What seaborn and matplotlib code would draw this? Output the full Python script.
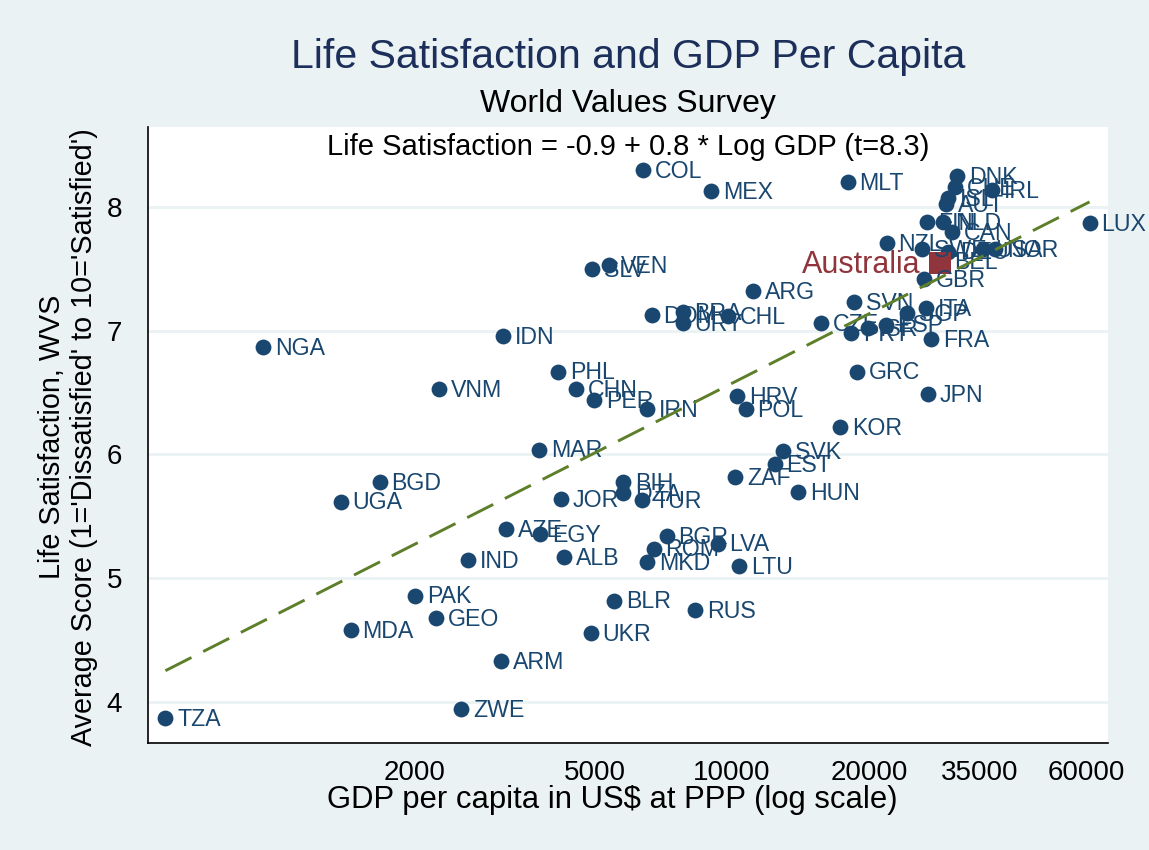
import matplotlib
matplotlib.use("Agg")
import matplotlib.pyplot as plt
import seaborn as sns
import pandas as pd
from matplotlib.ticker import FixedLocator, NullLocator


countries = [
    "TZA", "ZWE", "MDA", "ARM", "UKR", "GEO", "PAK", "BLR", "RUS", "LTU",
    "MKD", "ROM", "BGR", "LVA", "IND", "ALB", "AZE", "EGY", "UGA", "BGD",
    "JOR", "BIH", "DZA", "TUR", "MAR", "ZAF", "EST", "SVK", "HUN", "KOR",
    "HRV", "POL", "IRN", "PER", "CHN", "PHL", "VNM", "NGA", "IDN", "GRC",
    "JPN", "FRA", "ITA", "CZE", "PRT", "ISR", "ESP", "SGP", "SVN", "GBR",
    "COL", "MEX", "SLV", "VEN", "DOM", "BRA", "URY", "CHL", "ARG", "MLT",
    "DNK", "CHE", "IRL", "ISL", "AUT", "FIN", "NLD", "CAN", "NZL", "SWE",
    "DEU", "USA", "NOR", "BEL", "LUX",
]
gdp = [
    568, 2540, 1450, 3110, 4890, 2230, 2010, 5510, 8300, 10350,
    6500, 6720, 7180, 9300, 2630, 4270, 3190, 3790, 1380, 1680,
    4200, 5760, 5760, 6350, 3760, 10150, 12400, 12960, 13950, 17280,
    10270, 10720, 6500, 4980, 4530, 4150, 2270, 930, 3140, 18820,
    26970, 27360, 26680, 15670, 18260, 19930, 21770, 24210, 18540, 26470,
    6360, 8990, 4920, 5370, 6660, 7790, 7790, 9820, 11100, 17960,
    31280, 30900, 37230, 29880, 29530, 26790, 29140, 30400, 21880, 26150,
    29840, 35670, 37840, 28930, 61060,
]
life_sat = [
    3.87, 3.94, 4.58, 4.33, 4.56, 4.68, 4.86, 4.82, 4.74, 5.10,
    5.13, 5.24, 5.34, 5.28, 5.15, 5.17, 5.40, 5.36, 5.62, 5.78,
    5.64, 5.78, 5.69, 5.63, 6.04, 5.82, 5.92, 6.03, 5.70, 6.22,
    6.47, 6.37, 6.37, 6.44, 6.53, 6.67, 6.53, 6.87, 6.96, 6.67,
    6.49, 6.93, 7.18, 7.06, 6.98, 7.02, 7.05, 7.14, 7.23, 7.42,
    8.30, 8.13, 7.50, 7.53, 7.13, 7.15, 7.06, 7.12, 7.32, 8.20,
    8.25, 8.16, 8.14, 8.07, 8.02, 7.88, 7.88, 7.80, 7.71, 7.66,
    7.64, 7.66, 7.66, 7.56, 7.87,
]

highlight_name = "Australia"
highlight_gdp = [28640]
highlight_sat = [7.55]

x_ticks = [2000, 5000, 10000, 20000, 35000, 60000]
y_ticks = [4, 5, 6, 7, 8]

title = "Life Satisfaction and GDP Per Capita"
subtitle = "World Values Survey"
fit_note = "Life Satisfaction = -0.9 + 0.8 * Log GDP (t=8.3)"
x_title = "GDP per capita in US$ at PPP (log scale)"
y_title = "Life Satisfaction, WVS\nAverage Score (1='Dissatisfied' to 10='Satisfied')"

NAVY = "#1A476F"
MAROON = "#90353B"
FIT_GREEN = "#5E7F2A"
BG = "#EAF2F3"

sns.set_style("white")
plt.rcParams["font.family"] = ["Liberation Sans", "DejaVu Sans"]

df = pd.DataFrame({"country": countries, "gdp": gdp, "life_sat": life_sat})
aus = pd.DataFrame({"gdp": highlight_gdp, "life_sat": highlight_sat})
all_df = pd.concat([df[["gdp", "life_sat"]], aus], ignore_index=True)

W, H = 1149, 850
fig = plt.figure(figsize=(W / 100, H / 100), dpi=100, facecolor=BG)
ax = fig.add_axes([148 / W, (H - 743) / H, (1108 - 148) / W, (743 - 127) / H])
ax.set_facecolor("white")
ax.set_xscale("log")

for yv in y_ticks:
    ax.axhline(yv, color=BG, lw=2, zorder=0)

sns.scatterplot(data=df, x="gdp", y="life_sat", ax=ax, s=130,
                color=NAVY, linewidth=0, zorder=3, legend=False)
sns.scatterplot(data=aus, x="gdp", y="life_sat", ax=ax, s=270, marker="s",
                color=MAROON, linewidth=0, zorder=4, legend=False)

for c, xv, yv in zip(countries, gdp, life_sat):
    ax.annotate(c, (xv, yv), xytext=(8.5, -1), textcoords="offset points",
                ha="left", va="center", fontsize=16.7, color=NAVY, zorder=5)
ax.annotate(highlight_name, (highlight_gdp[0], highlight_sat[0]),
            xytext=(-14, -2), textcoords="offset points", ha="right",
            va="center", fontsize=22, color=MAROON, zorder=5)

# fitted line: life_sat ~ log(gdp)
sns.regplot(data=all_df, x="gdp", y="life_sat", ax=ax, logx=True, ci=None,
            scatter=False, truncate=True,
            line_kws={"color": FIT_GREEN, "lw": 2.1, "dashes": (10, 4.5), "zorder": 6})

ax.set_xlim(520, 67050)
ax.set_ylim(3.669, 8.646)
ax.xaxis.set_major_locator(FixedLocator(x_ticks))
ax.xaxis.set_minor_locator(NullLocator())
ax.set_xticklabels([str(t) for t in x_ticks])
ax.yaxis.set_major_locator(FixedLocator(y_ticks))
ax.set_yticklabels([str(t) for t in y_ticks])
ax.tick_params(axis="both", which="major", length=9.5, width=1, color="black",
               labelsize=20, labelcolor="black", direction="out")
ax.tick_params(axis="x", pad=3)
ax.tick_params(axis="y", pad=9)
ax.set_xlabel("")
ax.set_ylabel("")

for side in ["top", "right"]:
    ax.spines[side].set_visible(False)
for side in ["left", "bottom"]:
    ax.spines[side].set_color("black")
    ax.spines[side].set_linewidth(1.2)

fig.text(628 / W, 1 - 57 / H, title, ha="center", va="center",
         fontsize=29.5, color="#1C2E5A")
fig.text(628 / W, 1 - 104 / H, subtitle, ha="center", va="center",
         fontsize=23, color="black")
fig.text(628 / W, 1 - 147 / H, fit_note, ha="center", va="center",
         fontsize=21, color="black")
fig.text(612 / W, 1 - 800 / H, x_title, ha="center", va="center",
         fontsize=22.3, color="black")
fig.text(68 / W, 1 - 437 / H, y_title, ha="center", va="center",
         rotation=90, fontsize=20.7, color="black", linespacing=1.22,
         multialignment="center")

fig.savefig("out.png", dpi=100, facecolor=BG)
